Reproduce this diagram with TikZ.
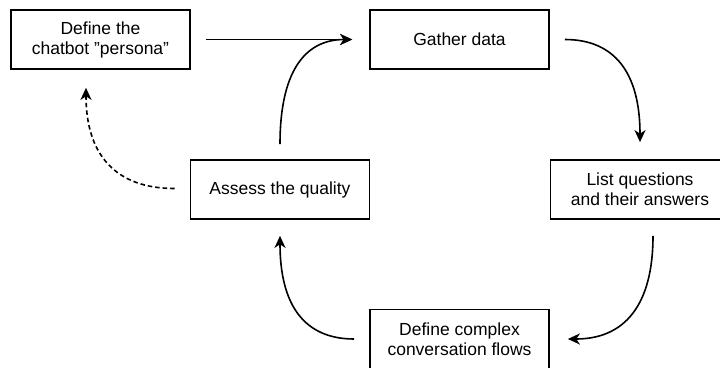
\documentclass[tikz,border=0pt]{standalone}
\usepackage{fontspec}
\setmainfont{Liberation Sans}
\usetikzlibrary{arrows.meta,calc}
\tikzset{
  stepbox/.style={draw=black, line width=1.7pt, minimum width=179pt, minimum height=59pt,
    inner sep=0pt, align=center, font=\fontsize{17.5}{20}\selectfont},
  flow/.style={line width=1.6pt, -{Stealth[length=12pt,width=11pt,inset=3.5pt]}},
  back/.style={flow, dash pattern=on 4.5pt off 3pt}
}
\begin{document}
\begin{tikzpicture}[x=1pt, y=-1pt]
  \clip (0,0) rectangle (720,367);
  \fill[white] (0,0) rectangle (720,367);

  % the five steps of the cycle
  \node[stepbox] (persona) at (100.5,39.5) {Define the\\chatbot \symbol{34}persona\symbol{34}};
  \node[stepbox] (gather)  at (459.5,39.5) {Gather data};
  \node[stepbox] (list)    at (640,189.5)  {List questions\\and their answers};
  \node[stepbox] (assess)  at (280,189.5)  {Assess the quality};
  \node[stepbox] (flows)   at (459.5,339)  {Define complex\\conversation flows};

  % connectors
  \draw[flow, shorten <=15pt, shorten >=17pt] (persona.east) -- (gather.west);
  \draw[flow] ($(gather.east)+(15,0)$) .. controls +(50,0) and +(0,-69) .. ($(list.north)+(0,-17)$);
  \draw[flow] ($(list.south)+(13,16)$) .. controls +(0,69) and +(57,0) .. ($(flows.east)+(18,0)$);
  \draw[flow] ($(flows.west)+(-15,0)$) .. controls +(-50,0) and +(0,69) .. ($(assess.south)+(0,16)$);
  \draw[flow] ($(assess.north)+(0,-15)$) .. controls +(0,-70) and +(-49,0) .. ($(gather.west)+(-17,0)$);
  \draw[back] ($(assess.west)+(-15,-1)$) .. controls +(-59,0) and +(0,67) .. ($(persona.south)+(-14.5,18)$);
\end{tikzpicture}
\end{document}
